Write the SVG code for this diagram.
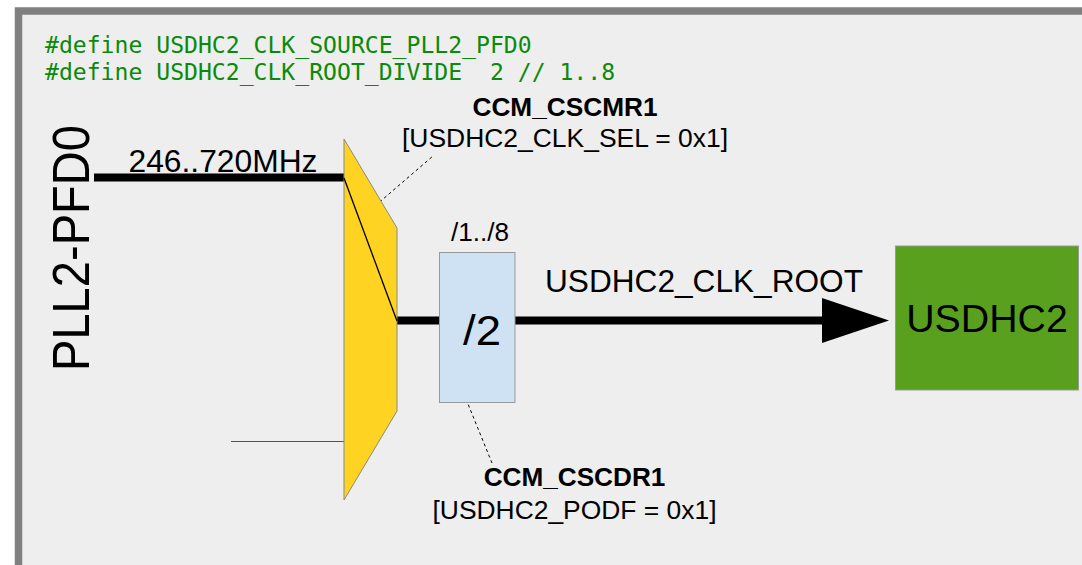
<svg xmlns="http://www.w3.org/2000/svg" width="1082" height="565" viewBox="0 0 1082 565">
<style>
.lbl{font-family:"Liberation Sans",Arial,sans-serif;fill:#000}
.b{font-weight:bold}
.code{font-family:"DejaVu Sans Mono","Liberation Mono",monospace;font-size:23.1px;fill:#0a8a0a;white-space:pre}
.dash{stroke:#000;stroke-width:1;stroke-dasharray:3,3;fill:none}
.thick{stroke:#000;stroke-width:8;fill:none}
</style>
<defs>
<marker id="ah" markerUnits="userSpaceOnUse" markerWidth="68" markerHeight="46" refX="0" refY="23" orient="auto">
<path d="M0,0.5 L67,23 L0,45.5 z" fill="#000"/>
</marker>
</defs>
<rect x="0" y="0" width="1082" height="565" fill="#ffffff"/>
<rect id="frame" x="18.5" y="11" width="1100" height="600" fill="#eeeeee" stroke="#808080" stroke-width="7.5"/>
<g id="code">
<text class="code" x="45" y="52.5" xml:space="preserve">#define USDHC2_CLK_SOURCE_PLL2_PFD0</text>
<text class="code" x="45" y="79.5" xml:space="preserve">#define USDHC2_CLK_ROOT_DIVIDE  2 // 1..8</text>
</g>
<g id="connectors">
<line class="thick" x1="94" y1="177.5" x2="344" y2="177.5"/>
<line x1="231" y1="441.5" x2="344" y2="441.5" stroke="#555" stroke-width="1.2"/>
<line class="thick" x1="397" y1="320.5" x2="440" y2="320.5"/>
<line class="thick" x1="514" y1="320.5" x2="822" y2="320.5" marker-end="url(#ah)"/>
<line class="dash" x1="375" y1="206" x2="433" y2="156"/>
<line class="dash" x1="461.5" y1="388" x2="492" y2="463"/>
</g>
<g id="pll2-pfd0">
<text class="lbl" x="89" y="248" font-size="51" text-anchor="middle" textLength="246" lengthAdjust="spacingAndGlyphs" transform="rotate(-90 89 248)">PLL2-PFD0</text>
<text class="lbl" x="223" y="171.5" font-size="31" text-anchor="middle" textLength="189" lengthAdjust="spacingAndGlyphs">246..720MHz</text>
</g>
<g id="mux">
<polygon points="344,139 397,228 397,411 344,500" fill="#fed321" stroke="#8a8a8a" stroke-width="1"/>
<line x1="344" y1="178" x2="397" y2="321" stroke="#000" stroke-width="1.3"/>
</g>
<g id="cscmr1">
<text class="lbl b" x="565" y="116" font-size="26" text-anchor="middle" textLength="185" lengthAdjust="spacingAndGlyphs">CCM_CSCMR1</text>
<text class="lbl" x="565" y="146.5" font-size="26" text-anchor="middle" textLength="326" lengthAdjust="spacingAndGlyphs">[USDHC2_CLK_SEL = 0x1]</text>
</g>
<g id="divider">
<rect x="439.5" y="252.5" width="75.5" height="150" fill="#cfe2f3" stroke="#999" stroke-width="1"/>
<text class="lbl" x="480" y="240.5" font-size="25" text-anchor="middle" textLength="58" lengthAdjust="spacingAndGlyphs">/1../8</text>
<text class="lbl" x="482" y="345" font-size="42" text-anchor="middle" textLength="38" lengthAdjust="spacingAndGlyphs">/2</text>
</g>
<g id="cscdr1">
<text class="lbl b" x="574.5" y="486" font-size="26" text-anchor="middle" textLength="181.7" lengthAdjust="spacingAndGlyphs">CCM_CSCDR1</text>
<text class="lbl" x="574.5" y="519" font-size="26" text-anchor="middle" textLength="284" lengthAdjust="spacingAndGlyphs">[USDHC2_PODF = 0x1]</text>
</g>
<g id="clkroot">
<text class="lbl" x="704" y="291.5" font-size="31" text-anchor="middle" textLength="318" lengthAdjust="spacingAndGlyphs">USDHC2_CLK_ROOT</text>
</g>
<g id="usdhc2">
<rect x="895.5" y="246" width="183" height="144" fill="#58a01d" stroke="#999" stroke-width="1"/>
<text class="lbl" x="987" y="332" font-size="39" text-anchor="middle" textLength="161.7" lengthAdjust="spacingAndGlyphs">USDHC2</text>
</g>
</svg>
